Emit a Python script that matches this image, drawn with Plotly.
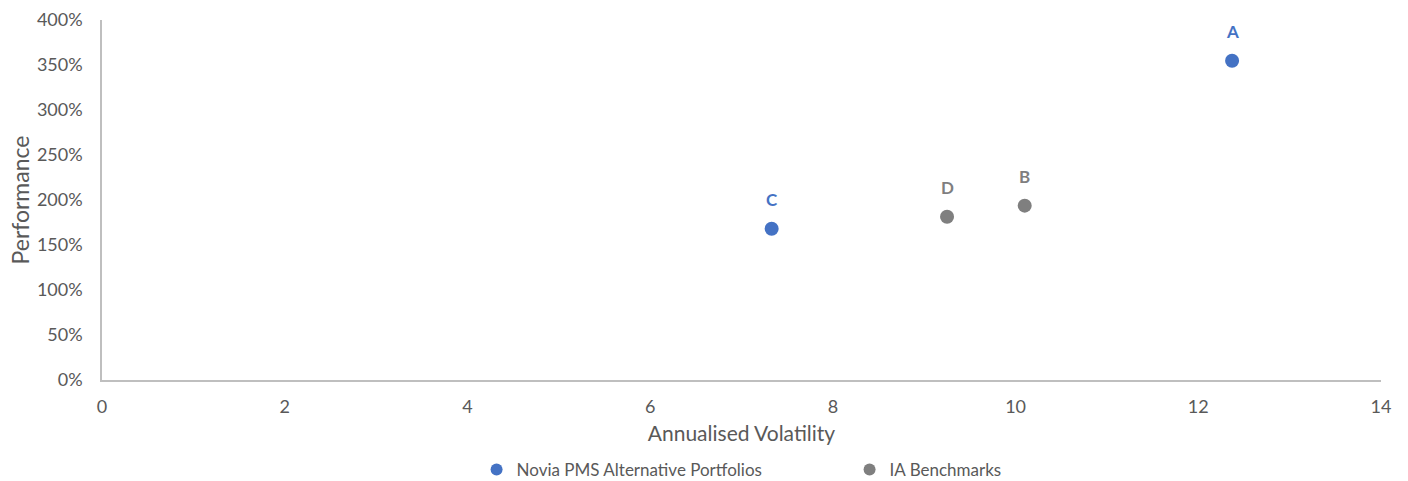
import plotly.graph_objects as go

# Data
novia_labels = ["A", "C"]
novia_vol = [12.37, 7.33]
novia_perf = [3.548, 1.681]

ia_labels = ["D", "B"]
ia_vol = [9.25, 10.10]
ia_perf = [1.814, 1.937]

x_ticks = [0, 2, 4, 6, 8, 10, 12, 14]
y_ticks = [0, 0.5, 1.0, 1.5, 2.0, 2.5, 3.0, 3.5, 4.0]

BLUE = "#4472C4"
GREY = "#7F7F7F"
FONT = "Lato, Carlito, Calibri, sans-serif"

W, H = 1408, 481

fig = go.Figure()
fig.add_trace(go.Scatter(x=novia_vol, y=novia_perf, mode="markers",
                         name="Novia PMS Alternative Portfolios",
                         marker=dict(color=BLUE, size=14)))
fig.add_trace(go.Scatter(x=ia_vol, y=ia_perf, mode="markers",
                         name="IA Benchmarks",
                         marker=dict(color=GREY, size=14)))

for lab, xv, yv in zip(novia_labels, novia_vol, novia_perf):
    fig.add_annotation(x=xv, y=yv, text=f"<b>{lab}</b>", showarrow=False,
                       yshift=29, font=dict(color=BLUE, size=17, family=FONT))
for lab, xv, yv in zip(ia_labels, ia_vol, ia_perf):
    fig.add_annotation(x=xv, y=yv, text=f"<b>{lab}</b>", showarrow=False,
                       yshift=29, font=dict(color=GREY, size=17, family=FONT))

fig.update_layout(
    width=W, height=H,
    margin=dict(l=102, r=27, t=20, b=101),
    paper_bgcolor="white", plot_bgcolor="white",
    font=dict(family=FONT, size=18, color="#595959"),
    showlegend=True,
    legend=dict(orientation="h", x=0.5845, xanchor="center",
                yref="container", y=1 - 470 / H, yanchor="middle",
                font=dict(size=17, color="#595959"),
                itemwidth=30,
                entrywidth=328, entrywidthmode="pixels", itemsizing="constant"),
    xaxis=dict(range=[0, 14], tickvals=x_ticks, showgrid=False, zeroline=False,
               showline=True, linecolor="#BFBFBF", linewidth=1.5, ticks="",
               automargin=False, ticklabelstandoff=10,
               title=dict(text="Annualised Volatility", font=dict(size=21, color="#595959"),
                          standoff=10),
               tickfont=dict(size=18, color="#595959")),
    yaxis=dict(range=[0, 4.0], tickvals=y_ticks, tickformat=".0%", showgrid=False,
               zeroline=False, showline=True, linecolor="#BFBFBF", linewidth=1.5, ticks="",
               automargin=False, ticklabelstandoff=14,
               title=dict(text="Performance", font=dict(size=23, color="#595959"),
                          standoff=1),
               tickfont=dict(size=18, color="#595959")),
)

fig.write_html("out.html",
               config={"displayModeBar": False},
               post_script="document.body.style.margin='0';document.body.style.overflow='hidden';")
